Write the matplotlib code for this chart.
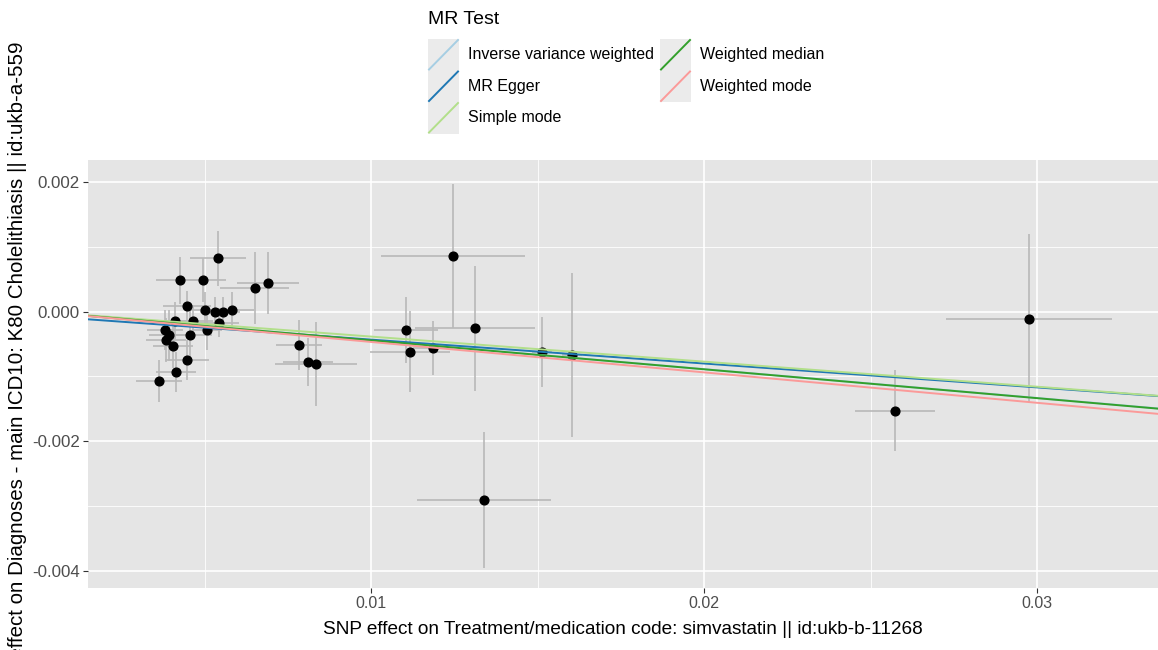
import matplotlib
matplotlib.use("Agg")
import matplotlib.pyplot as plt
from matplotlib.patches import Rectangle
from matplotlib.ticker import FixedLocator

plt.rcParams['font.family'] = ['Liberation Sans', 'DejaVu Sans']
plt.rcParams['axes.unicode_minus'] = False

# ---------------- data ----------------
snp_exposure = [0.00540, 0.00426, 0.00496, 0.00650, 0.00690, 0.00447, 0.00501,
                0.00532, 0.00556, 0.00583, 0.00411, 0.00466, 0.00544, 0.00508,
                0.00380, 0.00394, 0.00384, 0.00456, 0.00406, 0.00447, 0.00414,
                0.00363, 0.00784, 0.00811, 0.00835, 0.01246, 0.01105, 0.01313,
                0.01117, 0.01187, 0.01513, 0.01603, 0.01340, 0.02573, 0.02976]
snp_outcome = [0.00082, 0.00048, 0.00048, 0.00036, 0.00044, 0.00008, 0.00002,
               0.00000, 0.00000, 0.00002, -0.00014, -0.00014, -0.00017, -0.00028,
               -0.00029, -0.00037, -0.00044, -0.00037, -0.00054, -0.00075, -0.00094,
               -0.00107, -0.00052, -0.00078, -0.00081, 0.00086, -0.00028, -0.00026,
               -0.00062, -0.00056, -0.00062, -0.00067, -0.00291, -0.00153, -0.00011]
se_exposure = [0.00084, 0.00072, 0.00069, 0.00105, 0.00093, 0.00072, 0.00048,
               0.00045, 0.00051, 0.00066, 0.00060, 0.00060, 0.00060, 0.00045,
               0.00054, 0.00060, 0.00060, 0.00066, 0.00060, 0.00066, 0.00060,
               0.00069, 0.00069, 0.00075, 0.00123, 0.00216, 0.00096, 0.00180,
               0.00120, 0.00060, 0.00030, 0.00030, 0.00201, 0.00120, 0.00249]
se_outcome = [0.00043, 0.00036, 0.00034, 0.00056, 0.00048, 0.00023, 0.00028,
              0.00023, 0.00022, 0.00028, 0.00028, 0.00023, 0.00023, 0.00031,
              0.00031, 0.00039, 0.00034, 0.00039, 0.00034, 0.00031, 0.00031,
              0.00032, 0.00039, 0.00037, 0.00065, 0.00111, 0.00051, 0.00096,
              0.00063, 0.00042, 0.00054, 0.00127, 0.00105, 0.00062, 0.00131]

methods = ["Inverse variance weighted", "MR Egger", "Simple mode",
           "Weighted median", "Weighted mode"]
method_slopes = [-0.0445, -0.0369, -0.0387, -0.0446, -0.0470]
method_intercepts = [0.0, -0.000065, 0.0, 0.0, 0.0]
method_colors = ["#A6CEE3", "#1F78B4", "#B2DF8A", "#33A02C", "#FB9A99"]

x_major = [0.01, 0.02, 0.03]
x_minor = [0.005, 0.015, 0.025]
y_major = [0.002, 0.0, -0.002, -0.004]
y_minor = [0.001, -0.001, -0.003]
x_ticklabels = ["0.01", "0.02", "0.03"]
y_ticklabels = ["0.002", "0.000", "-0.002", "-0.004"]

x_title = "SNP effect on Treatment/medication code: simvastatin || id:ukb-b-11268"
y_title = "SNP effect on Diagnoses - main ICD10: K80 Cholelithiasis || id:ukb-a-559"
legend_title = "MR Test"

# ---------------- figure ----------------
W, H = 1158, 650
fig = plt.figure(figsize=(W / 100, H / 100), dpi=100)
fig.patch.set_facecolor("white")

pl, pr, pt, pb = 88, 1158, 160, 588
ax = fig.add_axes([pl / W, (H - pb) / H, (pr - pl) / W, (pb - pt) / H])
ax.set_facecolor("#E5E5E5")
for s in ax.spines.values():
    s.set_visible(False)

ax.set_xlim(0.0015, 0.03363)
ax.set_ylim(-0.00427, 0.00234)

ax.xaxis.set_major_locator(FixedLocator(x_major))
ax.xaxis.set_minor_locator(FixedLocator(x_minor))
ax.yaxis.set_major_locator(FixedLocator(y_major))
ax.yaxis.set_minor_locator(FixedLocator(y_minor))
ax.set_xticklabels(x_ticklabels)
ax.set_yticklabels(y_ticklabels)
ax.grid(which="major", color="white", linewidth=1.2)
ax.grid(which="minor", color="white", linewidth=0.6)
ax.set_axisbelow(True)
ax.tick_params(which="major", length=3.5, width=0.8, color="#333333",
               labelcolor="#4D4D4D", labelsize=11.5, pad=2.5)
ax.tick_params(axis="y", labelsize=12.2)
ax.tick_params(which="minor", length=0)

# error bars
ax.errorbar(snp_exposure, snp_outcome, xerr=se_exposure, yerr=se_outcome,
            fmt="none", ecolor="#B8B8B8", elinewidth=1.2, capsize=0, zorder=2)
# points
ax.plot(snp_exposure, snp_outcome, "o", color="black", markersize=6.3, zorder=3)
# MR lines
for b, m, c in zip(method_intercepts, method_slopes, method_colors):
    ax.axline((0.0, b), slope=m, color=c, linewidth=1.4, zorder=4)

# axis titles
fig.text((pl + pr) / 2 / W, (H - 630) / H, x_title, ha="center", va="center",
         fontsize=13.7, color="black")
fig.text(18 / W, (H - (pt + pb) / 2) / H, y_title, ha="center", va="center",
         rotation=90, fontsize=14.8, color="black")

# ---------------- legend (drawn in pixel coordinates) ----------------
lg = fig.add_axes([0, 0, 1, 1], zorder=10)
lg.set_xlim(0, W)
lg.set_ylim(H, 0)
lg.axis("off")
lg.text(428, 20, legend_title, ha="left", va="center", fontsize=14, color="black")
key_w, key_h = 31, 31.5
col_x = [428, 660]
row_y0 = 39
for i, (name, col) in enumerate(zip(methods, method_colors)):
    cidx = 0 if i < 3 else 1
    ridx = i if i < 3 else i - 3
    kx = col_x[cidx]
    ky = row_y0 + ridx * key_h
    lg.add_patch(Rectangle((kx, ky), key_w, key_h, facecolor="#EBEBEB",
                           edgecolor="none"))
    lg.plot([kx + 1, kx + key_w - 1], [ky + key_h - 1, ky + 1], color=col,
            linewidth=1.4)
    lg.text(kx + key_w + 9, ky + key_h / 2, name, ha="left", va="center",
            fontsize=11.5, color="black")

fig.savefig("out.png", dpi=100)
